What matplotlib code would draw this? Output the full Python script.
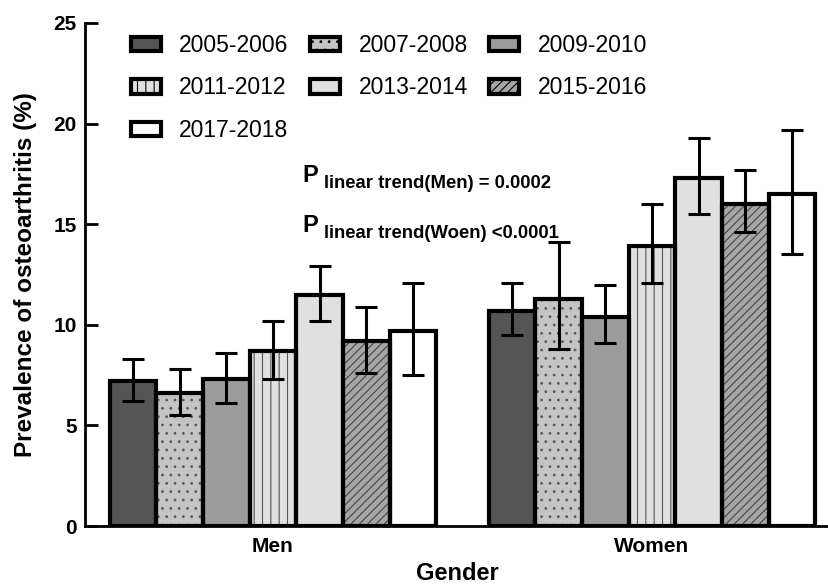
import matplotlib
matplotlib.use('Agg')
import matplotlib.pyplot as plt
from matplotlib.transforms import offset_copy
import numpy as np

plt.rcParams['font.family'] = ['Liberation Sans', 'DejaVu Sans']
plt.rcParams['hatch.linewidth'] = 0.8

# Datos
genders = ['Men', 'Women']
periods = ['2005-2006', '2007-2008', '2009-2010', '2011-2012',
           '2013-2014', '2015-2016', '2017-2018']
prevalence = {
    'Men':   [7.2, 6.6, 7.3, 8.7, 11.5, 9.2, 9.7],
    'Women': [10.7, 11.3, 10.4, 13.9, 17.3, 16.0, 16.5],
}
ci_low = {
    'Men':   [6.2, 5.5, 6.1, 7.3, 10.2, 7.6, 7.5],
    'Women': [9.5, 8.8, 9.1, 12.1, 15.5, 14.6, 13.5],
}
ci_high = {
    'Men':   [8.3, 7.8, 8.6, 10.2, 12.9, 10.9, 12.1],
    'Women': [12.1, 14.1, 12.0, 16.0, 19.3, 17.7, 19.7],
}
trend_texts = ['linear trend(Men) = 0.0002', 'linear trend(Woen) <0.0001']

# estilo de cada barra: (relleno, hatch, color del hatch)
styles = [
    ('#555555', None, None),
    ('#c4c4c4', '..', '#5a5a5a'),
    ('#9c9c9c', None, None),
    ('#e0e0e0', '||', '#555555'),
    ('#e0e0e0', None, None),
    ('#a6a6a6', '////', '#444444'),
    ('#ffffff', None, None),
]

fig = plt.figure(figsize=(8.29, 5.88), dpi=100)
ax = fig.add_axes([0.1025, 0.1054, 0.8975, 0.8556])

x = np.arange(len(genders))
width = 0.123
n = len(periods)
handles = []
for i, per in enumerate(periods):
    vals = np.array([prevalence[g][i] for g in genders])
    lo = np.array([ci_low[g][i] for g in genders])
    hi = np.array([ci_high[g][i] for g in genders])
    pos = x + (i - (n - 1) / 2) * width
    fc, hatch, hc = styles[i]
    # relleno con hatch
    ax.bar(pos, vals, width, color=fc, hatch=hatch,
           edgecolor=hc if hc else fc, linewidth=0, zorder=2)
    # borde negro
    ax.bar(pos, vals, width, fill=False, edgecolor='black', linewidth=3, zorder=3)
    ax.errorbar(pos, vals, yerr=[vals - lo, hi - vals], fmt='none',
                ecolor='black', elinewidth=2.2, capsize=8, capthick=2.2, zorder=4)
    h = plt.Rectangle((0, 0), 1, 1, facecolor=fc, hatch=hatch,
                      edgecolor='black', linewidth=3)
    handles.append(h)

ax.set_ylim(0, 25)
ax.set_yticks([0, 5, 10, 15, 20, 25])
ax.set_xlim(-0.496, 1.467)
ax.set_xticks(x)
ax.set_xticklabels(genders)

for s in ['top', 'right']:
    ax.spines[s].set_visible(False)
for s in ['left', 'bottom']:
    ax.spines[s].set_linewidth(2)
    ax.spines[s].set_zorder(5)

ax.tick_params(axis='y', direction='in', length=9, width=2, labelsize=15, pad=6)
ax.tick_params(axis='x', direction='in', length=8, width=2, labelsize=15, pad=8)
for lab in ax.get_xticklabels() + ax.get_yticklabels():
    lab.set_fontweight('bold')

ax.set_ylabel('Prevalence of osteoarthritis (%)', fontsize=17.5, fontweight='bold', labelpad=12)
ax.set_xlabel('Gender', fontsize=17, fontweight='bold', labelpad=4)

# leyenda en filas (orden por columnas de matplotlib)
order = [0, 3, 6, 1, 4, 2, 5]
ax.legend([handles[k] for k in order], [periods[k] for k in order],
          ncol=3, loc='upper left', bbox_to_anchor=(131 / 829, 1 - 34 / 588),
          bbox_transform=fig.transFigure, frameon=False, borderpad=0, borderaxespad=0,
          fontsize=16.5, handlelength=1.3, handleheight=0.6, handletextpad=0.8,
          columnspacing=0.95, labelspacing=0.85)

# P de tendencia con subíndice
for txt, yv in zip(trend_texts, [17.1, 14.6]):
    ax.text(0.078, yv, 'P', fontsize=17, fontweight='bold', va='baseline')
    tr = offset_copy(ax.transData, fig=fig, x=21, y=-6, units='dots')
    ax.text(0.078, yv, txt, fontsize=13.3, fontweight='bold', va='baseline', transform=tr)

plt.savefig('out.png', dpi=100)
